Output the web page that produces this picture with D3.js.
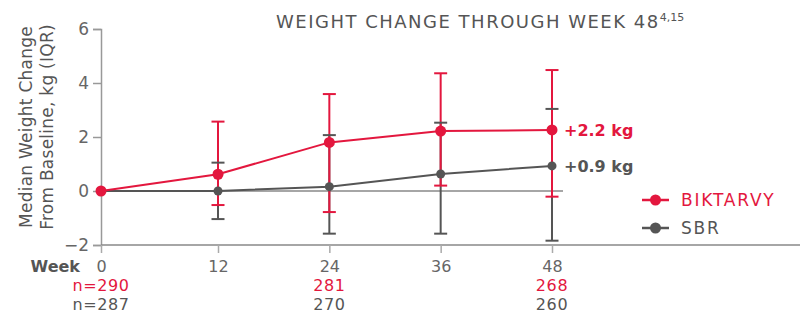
<!DOCTYPE html>
<html>
<head>
<meta charset="utf-8">
<script src="https://cdn.jsdelivr.net/npm/d3@7"></script>
<style>
  body { margin: 0; background: #fff; }
  svg { display: block; font-family: "DejaVu Sans", sans-serif; }
</style>
</head>
<body>
<div id="chart"></div>
<script>
const weeks = [0, 12, 24, 36, 48];
const biktarvyMedian = [0, 0.62, 1.80, 2.22, 2.26];
const biktarvyQ1 = [null, -0.52, -0.78, 0.20, -0.21];
const biktarvyQ3 = [null, 2.57, 3.59, 4.36, 4.48];
const sbrMedian = [0, 0, 0.16, 0.63, 0.93];
const sbrQ1 = [null, -1.04, -1.58, -1.58, -1.84];
const sbrQ3 = [null, 1.05, 2.07, 2.53, 3.04];
const yTicks = [-2, 0, 2, 4, 6];
const nWeeks = [0, 24, 48];
const biktarvyN = ["n=290", "281", "268"];
const sbrN = ["n=287", "270", "260"];
const endLabels = ["+2.2 kg", "+0.9 kg"];
const seriesNames = ["BIKTARVY", "SBR"];

const RED = "#e3173e", GRAY = "#555555";
const W = 800, H = 314;
const FONT = "DejaVu Sans, sans-serif";

const svg = d3.select("#chart").append("svg").attr("width", W).attr("height", H);

// slightly wider first interval, as in the original artwork
const x = d3.scaleLinear().domain([0, 12, 48]).range([101, 218, 552]);
const y = d3.scaleLinear().domain([-2, 6]).range([245, 29]);

// title
const title = svg.append("text").attr("x", 276).attr("y", 28)
  .attr("fill", GRAY).attr("font-size", 18);
title.append("tspan").attr("letter-spacing", 1.5).text("WEIGHT CHANGE THROUGH WEEK 48");
title.append("tspan").attr("dy", -7).attr("font-size", 11).text("4,15");

// y axis title
const yt = svg.append("text").attr("transform", "translate(0,127) rotate(-90)")
  .attr("text-anchor", "middle").attr("fill", GRAY).attr("font-size", 17)
  .attr("letter-spacing", 0.25);
yt.append("tspan").attr("x", 0).attr("y", 32).text("Median Weight Change");
yt.append("tspan").attr("x", 0).attr("y", 53).text("From Baseline, kg (IQR)");

// y axis
const yAxis = svg.append("g").attr("transform", "translate(101,0)")
  .call(d3.axisLeft(y).tickValues(yTicks).tickSize(8).tickPadding(4)
    .tickFormat(d => d < 0 ? "\u2212" + Math.abs(d) : d));
yAxis.select(".domain").attr("stroke", "#999").attr("stroke-width", 1.5);
yAxis.selectAll(".tick line").attr("stroke", "#999").attr("stroke-width", 1.5);
yAxis.selectAll(".tick text").attr("fill", "#666").attr("font-size", 17)
  .attr("font-family", FONT);

// x axis
const xAxis = svg.append("g").attr("transform", "translate(0,245)")
  .call(d3.axisBottom(x).tickValues(weeks).tickSize(8).tickPadding(6).tickSizeOuter(0));
xAxis.select(".domain").attr("d", `M${x(0)},0H${W}`).attr("stroke", "#888").attr("stroke-width", 1.5);
xAxis.selectAll(".tick line").attr("stroke", "#aaa").attr("stroke-width", 1.5);
xAxis.selectAll(".tick text").attr("fill", "#666").attr("font-size", 16)
  .attr("font-family", FONT).attr("y", 27).attr("dy", 0);

svg.append("text").attr("x", 80).attr("y", 272).attr("text-anchor", "end")
  .attr("fill", GRAY).attr("font-size", 16).attr("font-weight", 700).text("Week");

// n at risk rows
svg.append("g").selectAll("text").data(nWeeks).join("text")
  .attr("x", d => x(d)).attr("y", 291).attr("text-anchor", "middle")
  .attr("fill", RED).attr("font-size", 16).attr("letter-spacing", 0.6)
  .text((d, i) => biktarvyN[i]);
svg.append("g").selectAll("text").data(nWeeks).join("text")
  .attr("x", d => x(d)).attr("y", 310).attr("text-anchor", "middle")
  .attr("fill", GRAY).attr("font-size", 16).attr("letter-spacing", 0.6)
  .text((d, i) => sbrN[i]);

// zero reference line
svg.append("line").attr("x1", x(0)).attr("x2", 563).attr("y1", y(0)).attr("y2", y(0))
  .attr("stroke", "#888").attr("stroke-width", 1.5);

const series = [
  { name: seriesNames[1], med: sbrMedian, q1: sbrQ1, q3: sbrQ3, color: GRAY, r: 4.5 },
  { name: seriesNames[0], med: biktarvyMedian, q1: biktarvyQ1, q3: biktarvyQ3, color: RED, r: 5.5 }
];
const pts = s => weeks.map((w, i) => ({ w, m: s.med[i], lo: s.q1[i], hi: s.q3[i] }));

// error bar stems
series.forEach(s => {
  svg.append("g").selectAll("line").data(pts(s).filter(d => d.lo != null)).join("line")
    .attr("x1", d => x(d.w)).attr("x2", d => x(d.w))
    .attr("y1", d => y(d.lo)).attr("y2", d => y(d.hi))
    .attr("stroke", s.color).attr("stroke-width", 2);
});
// caps
series.forEach(s => {
  const g = svg.append("g");
  pts(s).filter(d => d.lo != null).forEach(d => {
    [d.lo, d.hi].forEach(v => {
      g.append("line").attr("x1", x(d.w) - 6.5).attr("x2", x(d.w) + 6.5)
        .attr("y1", y(v)).attr("y2", y(v)).attr("stroke", s.color).attr("stroke-width", 2);
    });
  });
});
// median lines and dots
const line = d3.line().x(d => x(d.w)).y(d => y(d.m));
series.forEach(s => {
  svg.append("path").datum(pts(s)).attr("d", line)
    .attr("fill", "none").attr("stroke", s.color).attr("stroke-width", 2);
  svg.append("g").selectAll("circle").data(pts(s)).join("circle")
    .attr("cx", d => x(d.w)).attr("cy", d => y(d.m)).attr("r", s.r).attr("fill", s.color);
});

// end labels
svg.append("text").attr("x", 564).attr("y", y(biktarvyMedian[4]) + 6)
  .attr("fill", RED).attr("font-size", 16).attr("font-weight", 700).text(endLabels[0]);
svg.append("text").attr("x", 564).attr("y", y(sbrMedian[4]) + 6)
  .attr("fill", GRAY).attr("font-size", 16).attr("font-weight", 700).text(endLabels[1]);

// legend
const legend = svg.append("g");
[{ c: RED, yy: 200 }, { c: GRAY, yy: 228 }].forEach((l, i) => {
  const g = legend.append("g").attr("transform", `translate(0,${l.yy})`);
  g.append("line").attr("x1", 642).attr("x2", 669).attr("stroke", l.c).attr("stroke-width", 2.5);
  g.append("circle").attr("cx", 655.5).attr("r", 5.5).attr("fill", l.c);
  g.append("text").attr("x", 681).attr("y", 6).attr("fill", l.c).attr("font-size", 17)
    .attr("letter-spacing", 1.8).text(seriesNames[i]);
});
</script>
</body>
</html>
